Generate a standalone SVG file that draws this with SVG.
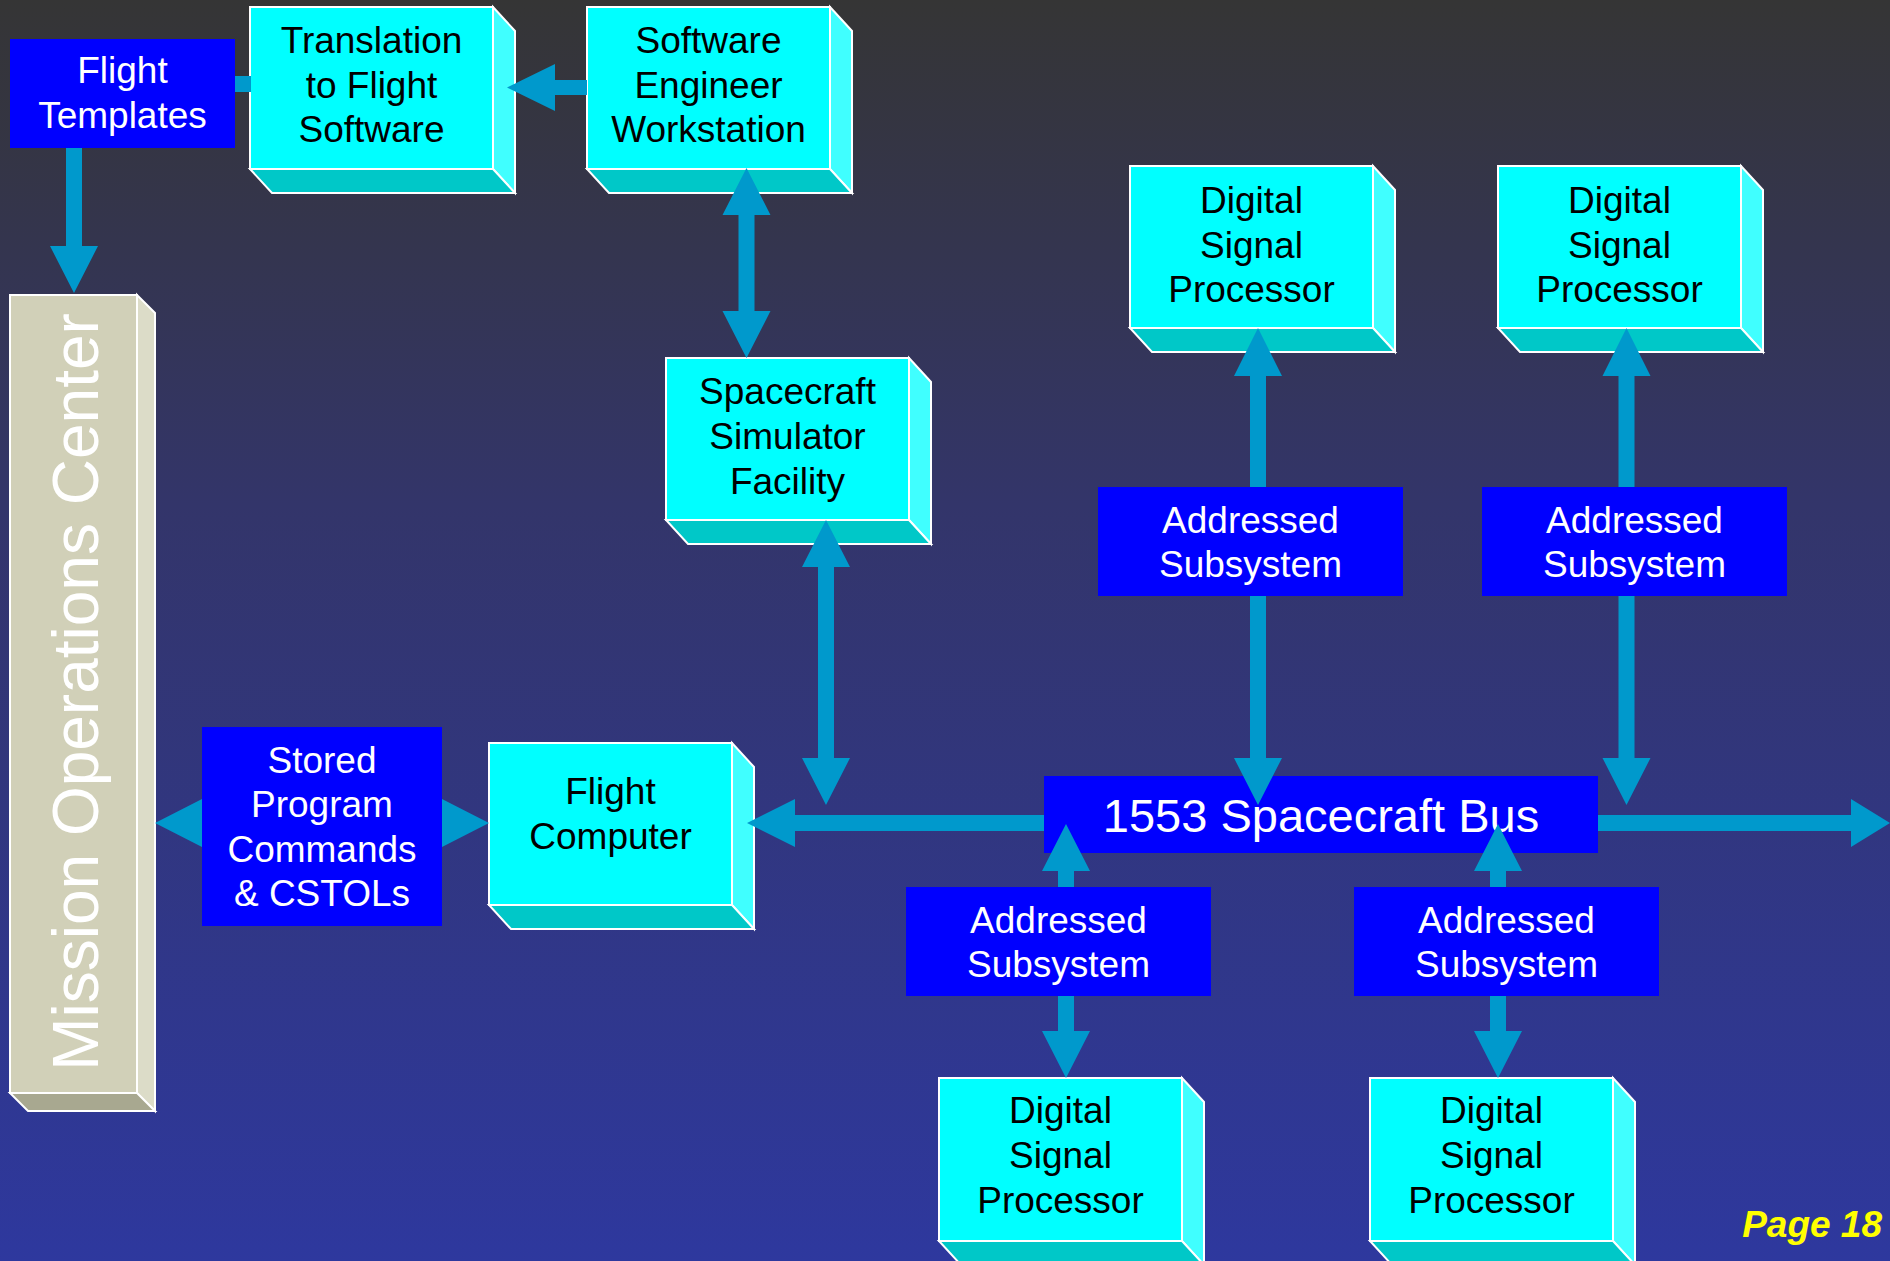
<svg xmlns="http://www.w3.org/2000/svg" width="1890" height="1261" viewBox="0 0 1890 1261">
  <defs>
    <linearGradient id="bg" x1="0" y1="0" x2="0" y2="1">
      <stop offset="0" stop-color="#353535"/>
      <stop offset="0.4" stop-color="#33356A"/>
      <stop offset="1" stop-color="#2E389E"/>
    </linearGradient>
    <style>
      .front { fill: #00FFFF; stroke: #FFFFFF; stroke-width: 2; }
      .side { fill: #40FFFF; stroke: #FFFFFF; stroke-width: 2; }
      .base { fill: #00C8C8; stroke: #FFFFFF; stroke-width: 2; }
      .mfront { fill: #D1D0B8; stroke: #FFFFFF; stroke-width: 2; }
      .mside { fill: #DCDCC8; stroke: #FFFFFF; stroke-width: 2; }
      .mbase { fill: #A8A890; stroke: #FFFFFF; stroke-width: 2; }
      .blue { fill: #0000FF; }
      .dark { font-family: "Liberation Sans", Arial, sans-serif; font-size: 37px; fill: #000000; text-anchor: middle; }
      .light { font-family: "Liberation Sans", Arial, sans-serif; font-size: 37px; fill: #FFFFFF; text-anchor: middle; }
      .link { fill: #0099CC; }
    </style>
  </defs>

  <rect width="1890" height="1261" fill="url(#bg)"/>

  <!-- Mission Operations Center: tall extruded block -->
  <g id="moc">
    <polygon class="mside" points="137,295 155,313 155,1111 137,1093"/>
    <polygon class="mbase" points="10,1093 137,1093 155,1111 28,1111"/>
    <rect class="mfront" x="10" y="295" width="127" height="798"/>
    <text transform="translate(98,692) rotate(-90)" font-family="Liberation Sans, Arial, sans-serif" font-size="64" fill="#FFFFFF" text-anchor="middle">Mission Operations Center</text>
  </g>

  <!-- Extruded cyan blocks: front 243x162, depth 22x24 -->
  <g id="translation">
    <polygon class="side" points="493,7 515,31 515,193 493,169"/>
    <polygon class="base" points="250,169 493,169 515,193 272,193"/>
    <rect class="front" x="250" y="7" width="243" height="162"/>
    <text class="dark" x="371.5" y="53">Translation</text>
    <text class="dark" x="371.5" y="97.5">to Flight</text>
    <text class="dark" x="371.5" y="142">Software</text>
  </g>

  <g id="workstation">
    <polygon class="side" points="830,7 852,31 852,193 830,169"/>
    <polygon class="base" points="587,169 830,169 852,193 609,193"/>
    <rect class="front" x="587" y="7" width="243" height="162"/>
    <text class="dark" x="708.5" y="53">Software</text>
    <text class="dark" x="708.5" y="97.5">Engineer</text>
    <text class="dark" x="708.5" y="142">Workstation</text>
  </g>

  <g id="simulator">
    <polygon class="side" points="909,358 931,382 931,544 909,520"/>
    <polygon class="base" points="666,520 909,520 931,544 688,544"/>
    <rect class="front" x="666" y="358" width="243" height="162"/>
    <text class="dark" x="787.5" y="404">Spacecraft</text>
    <text class="dark" x="787.5" y="449">Simulator</text>
    <text class="dark" x="787.5" y="494">Facility</text>
  </g>

  <g id="flight-computer">
    <polygon class="side" points="732,743 754,767 754,929 732,905"/>
    <polygon class="base" points="489,905 732,905 754,929 511,929"/>
    <rect class="front" x="489" y="743" width="243" height="162"/>
    <text class="dark" x="610.5" y="804">Flight</text>
    <text class="dark" x="610.5" y="849">Computer</text>
  </g>

  <g id="dsp-upper-left">
    <polygon class="side" points="1373,166 1395,190 1395,352 1373,328"/>
    <polygon class="base" points="1130,328 1373,328 1395,352 1152,352"/>
    <rect class="front" x="1130" y="166" width="243" height="162"/>
    <text class="dark" x="1251.5" y="213">Digital</text>
    <text class="dark" x="1251.5" y="258">Signal</text>
    <text class="dark" x="1251.5" y="302">Processor</text>
  </g>

  <g id="dsp-upper-right">
    <polygon class="side" points="1741,166 1763,190 1763,352 1741,328"/>
    <polygon class="base" points="1498,328 1741,328 1763,352 1520,352"/>
    <rect class="front" x="1498" y="166" width="243" height="162"/>
    <text class="dark" x="1619.5" y="213">Digital</text>
    <text class="dark" x="1619.5" y="258">Signal</text>
    <text class="dark" x="1619.5" y="302">Processor</text>
  </g>

  <g id="dsp-lower-left">
    <polygon class="side" points="1182,1078 1204,1102 1204,1265 1182,1241"/>
    <polygon class="base" points="939,1241 1182,1241 1204,1265 961,1265"/>
    <rect class="front" x="939" y="1078" width="243" height="163"/>
    <text class="dark" x="1060.5" y="1123">Digital</text>
    <text class="dark" x="1060.5" y="1168">Signal</text>
    <text class="dark" x="1060.5" y="1213">Processor</text>
  </g>

  <g id="dsp-lower-right">
    <polygon class="side" points="1613,1078 1635,1102 1635,1265 1613,1241"/>
    <polygon class="base" points="1370,1241 1613,1241 1635,1265 1392,1265"/>
    <rect class="front" x="1370" y="1078" width="243" height="163"/>
    <text class="dark" x="1491.5" y="1123">Digital</text>
    <text class="dark" x="1491.5" y="1168">Signal</text>
    <text class="dark" x="1491.5" y="1213">Processor</text>
  </g>

  <g id="bus">
    <rect class="blue" x="1044" y="776" width="554" height="77"/>
    <text x="1321" y="832" font-family="Liberation Sans, Arial, sans-serif" font-size="47" fill="#FFFFFF" text-anchor="middle">1553 Spacecraft Bus</text>
  </g>

  <!-- Connectors: block arrows -->
  <g id="connectors" class="link">
    <rect x="234" y="76" width="17" height="16"/>
    <path d="M66,148 H82 V246 H98 L74,293 L50,246 H66 Z"/>
    <path d="M587,80 V95 H555 V111 L507,87.5 L555,64 V80 Z"/>
    <path d="M746.5,168 L770.5,215 H754.5 V311 H770.5 L746.5,358 L722.5,311 H738.5 V215 H722.5 Z"/>
    <path d="M826,520 L850,567 H834 V758 H850 L826,805 L802,758 H818 V567 H802 Z"/>
    <path d="M155,823 L202,799 V815 H442 V799 L489,823 L442,847 V831 H202 V847 Z"/>
    <path d="M747,823 L795,799 V815 H1044 V831 H795 V847 Z"/>
    <path d="M1598,815 H1851 V799 L1890,823 L1851,847 V831 H1598 Z"/>
    <path d="M1258,328 L1282,376 H1266 V758 H1282 L1258,805 L1234,758 H1250 V376 H1234 Z"/>
    <path d="M1626.5,328 L1650.5,376 H1634.5 V758 H1650.5 L1626.5,805 L1602.5,758 H1618.5 V376 H1602.5 Z"/>
    <path d="M1066,824 L1090,871 H1074 V1031 H1090 L1066,1078 L1042,1031 H1058 V871 H1042 Z"/>
    <path d="M1498,824 L1522,871 H1506 V1031 H1522 L1498,1078 L1474,1031 H1490 V871 H1474 Z"/>
  </g>

  <!-- Flat blue blocks -->
  <g id="flight-templates">
    <rect class="blue" x="10" y="39" width="225" height="109"/>
    <text class="light" x="122.5" y="83">Flight</text>
    <text class="light" x="122.5" y="128">Templates</text>
  </g>

  <g id="stored-commands">
    <rect class="blue" x="202" y="727" width="240" height="199"/>
    <text class="light" x="322" y="773">Stored</text>
    <text class="light" x="322" y="817">Program</text>
    <text class="light" x="322" y="862">Commands</text>
    <text class="light" x="322" y="906">&amp; CSTOLs</text>
  </g>

  <g id="subsystem-upper-left">
    <rect class="blue" x="1098" y="487" width="305" height="109"/>
    <text class="light" x="1250.5" y="533">Addressed</text>
    <text class="light" x="1250.5" y="577">Subsystem</text>
  </g>

  <g id="subsystem-upper-right">
    <rect class="blue" x="1482" y="487" width="305" height="109"/>
    <text class="light" x="1634.5" y="533">Addressed</text>
    <text class="light" x="1634.5" y="577">Subsystem</text>
  </g>

  <g id="subsystem-lower-left">
    <rect class="blue" x="906" y="887" width="305" height="109"/>
    <text class="light" x="1058.5" y="933">Addressed</text>
    <text class="light" x="1058.5" y="977">Subsystem</text>
  </g>

  <g id="subsystem-lower-right">
    <rect class="blue" x="1354" y="887" width="305" height="109"/>
    <text class="light" x="1506.5" y="933">Addressed</text>
    <text class="light" x="1506.5" y="977">Subsystem</text>
  </g>

  <text x="1882" y="1237" font-family="Liberation Sans, Arial, sans-serif" font-size="37" font-weight="bold" font-style="italic" fill="#FFFF00" text-anchor="end">Page 18</text>
</svg>
